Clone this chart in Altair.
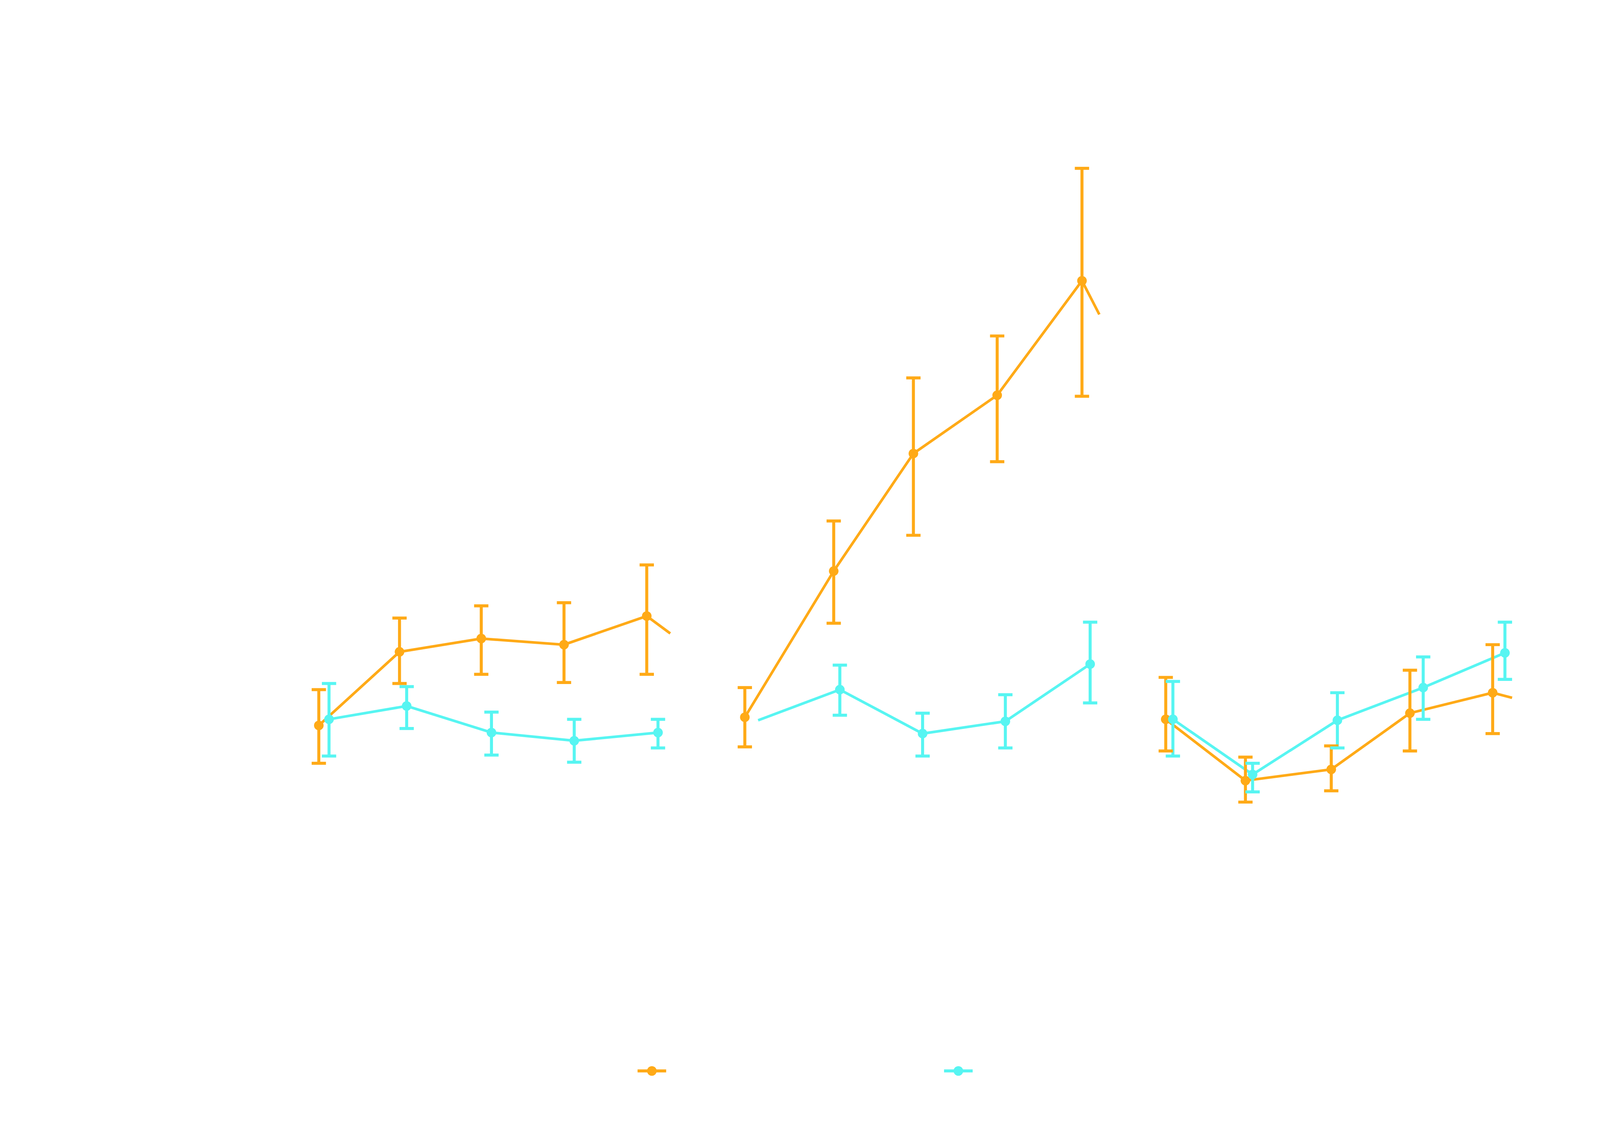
import pandas as pd
import altair as alt

ORANGE = "#ffaa17"
CYAN = "#57f5f2"

# x position, mean, upper and lower error bar (picture units, y grows upward)
H = 1066
o_x = [309, 388, 468, 549, 630, 726, 813, 891, 973, 1056, 1138, 1216, 1300, 1377, 1458]
o_y = [687, 615, 602, 608, 580, 679, 536, 421, 364, 252, 681, 741, 730, 675, 655]
o_hi = [652, 582, 570, 567, 530, 650, 487, 347, 306, 142, 640, 718, 707, 633, 608]
o_lo = [724, 646, 637, 645, 637, 708, 587, 501, 429, 365, 712, 762, 751, 712, 695]

c_x = [319, 395, 478, 559, 641, 819, 900, 981, 1064, 1145, 1223, 1306, 1390, 1470]
c_y = [681, 668, 694, 702, 694, 652, 695, 683, 627, 681, 735, 682, 650, 616]
c_hi = [646, 649, 674, 681, 681, 628, 675, 657, 586, 644, 724, 655, 620, 586]
c_lo = [717, 690, 716, 723, 709, 677, 717, 709, 665, 717, 752, 709, 681, 642]

o_panel = [1] * 5 + [2] * 5 + [3] * 5
c_panel = [1] * 5 + [2] * 4 + [3] * 5

# line stubs running off toward the next group
o_stub = {1: (653, 597), 2: (1073, 285), 3: (1477, 660)}
c_stub = {2: (739, 682)}

pts = pd.DataFrame(
    [dict(s="a", p=p, x=x, y=H - y, hi=H - h, lo=H - l, o=i)
     for i, (p, x, y, h, l) in enumerate(zip(o_panel, o_x, o_y, o_hi, o_lo))]
    + [dict(s="b", p=p, x=x, y=H - y, hi=H - h, lo=H - l, o=i)
       for i, (p, x, y, h, l) in enumerate(zip(c_panel, c_x, c_y, c_hi, c_lo))]
)

stubs = pd.DataFrame(
    [dict(s="a", p=p, x=x, y=H - y, o=99) for p, (x, y) in o_stub.items()]
    + [dict(s="b", p=p, x=x, y=H - y, o=-1) for p, (x, y) in c_stub.items()]
)
lines = pd.concat([pts[["s", "p", "x", "y", "o"]], stubs])

legend = pd.DataFrame({"s": ["a", "b"], "x": [635, 935], "y": [H - 1025, H - 1025]})

X = alt.Scale(domain=[0, 1560], nice=False, zero=False)
Y = alt.Scale(domain=[0, H], nice=False, zero=False)
col = alt.Color("s:N", scale=alt.Scale(domain=["a", "b"], range=[ORANGE, CYAN]), legend=None)
noax = dict(axis=None)

base = alt.Chart(pts)

line = alt.Chart(lines).mark_line(strokeWidth=7).encode(
    x=alt.X("x:Q", scale=X, **noax), y=alt.Y("y:Q", scale=Y, **noax),
    color=col, detail="p:N", order="o:Q")

bars = base.mark_rule(strokeWidth=8).encode(
    x=alt.X("x:Q", scale=X, **noax), y=alt.Y("hi:Q", scale=Y, **noax), y2="lo:Q", color=col)

caps_hi = base.transform_calculate(x1="datum.x - 7", x2="datum.x + 7").mark_rule(strokeWidth=8).encode(
    x=alt.X("x1:Q", scale=X, **noax), x2="x2:Q", y=alt.Y("hi:Q", scale=Y, **noax), color=col)
caps_lo = base.transform_calculate(x1="datum.x - 7", x2="datum.x + 7").mark_rule(strokeWidth=8).encode(
    x=alt.X("x1:Q", scale=X, **noax), x2="x2:Q", y=alt.Y("lo:Q", scale=Y, **noax), color=col)

dots = base.mark_point(filled=True, opacity=1, size=650).encode(
    x=alt.X("x:Q", scale=X, **noax), y=alt.Y("y:Q", scale=Y, **noax), color=col)

leg = alt.Chart(legend)
leg_line = leg.transform_calculate(x1="datum.x - 14", x2="datum.x + 14").mark_rule(strokeWidth=8).encode(
    x=alt.X("x1:Q", scale=X, **noax), x2="x2:Q", y=alt.Y("y:Q", scale=Y, **noax), color=col)
leg_dot = leg.mark_point(filled=True, opacity=1, size=650).encode(
    x=alt.X("x:Q", scale=X, **noax), y=alt.Y("y:Q", scale=Y, **noax), color=col)

chart = (line + bars + caps_hi + caps_lo + dots + leg_line + leg_dot).properties(
    width=4230, height=2892, padding=0, autosize="none"
).configure_view(stroke=None)

chart.save("out.html", embed_options={"renderer": "svg", "actions": False})
